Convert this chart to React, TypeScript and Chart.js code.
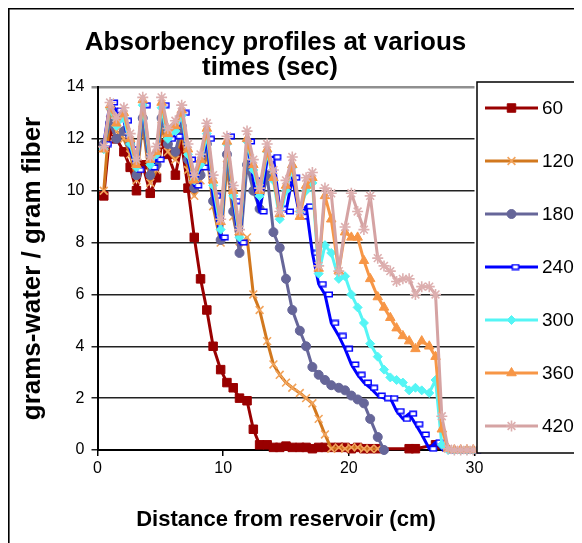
import React, { useEffect, useRef } from 'react';
import { Chart, registerables } from 'chart.js';
import { drawPoint } from 'chart.js/helpers';

Chart.register(...registerables);

// Distance from reservoir (cm) at which readings were taken
const positions = [
  0.5, 1.0, 1.5, 2.1, 2.6, 3.1, 3.6, 4.2, 4.7, 5.1, 5.6, 6.2, 6.7, 7.2, 7.7, 8.2, 8.7, 9.2, 9.8, 10.3, 10.8, 11.3, 11.9, 12.4, 12.9, 13.5, 14.0,
  14.5, 15.0, 15.5, 16.1, 16.6, 17.1, 17.6, 18.1, 18.6, 19.2, 19.7, 20.2, 20.7, 21.2, 21.7, 22.3, 22.8, 23.3, 23.8, 24.3, 24.8, 25.3, 25.8, 26.4, 26.9, 27.4, 27.9, 28.4, 28.9, 29.4, 29.9,
];

const series60 = [
  9.8, 12.3, 12.0, 11.5, 10.9, 10.0, 11.0, 9.9, 10.5, 11.8, 11.4, 10.6, 11.8, 10.1, 8.2, 6.6, 5.4, 4.0, 3.1, 2.6, 2.4, 2.0, 1.9, 0.8, 0.2, 0.2, 0.1,
  0.1, 0.15, 0.1, 0.1, 0.1, 0.05, 0.1, 0.1, 0.1, 0.1, 0.1, 0.05, 0.1, 0.05, 0.05, 0.05, null, null, null, null, 0.05, 0.05, null, null, 0.2, null, null, null, null, null, null,
];
const series120 = [
  10.0, 13.0, 12.3, 12.0, 11.4, 10.4, 12.6, 10.3, 10.8, 12.5, 11.5, 11.2, 12.3, 10.8, 9.8, 10.4, 11.5, 9.4, 8.0, 11.0, 9.0, 7.8, 8.2, 6.0, 5.4, 4.2, 3.3,
  2.9, 2.6, 2.4, 2.2, 2.0, 1.8, 1.2, 0.6, 0.05, 0.1, 0.05, 0.1, 0.1, 0.05, 0.05, 0.05, null, null, null, null, null, null, null, null, null, null, null, null, null, null, null,
];
const series180 = [
  11.8, 12.6, 12.0, 12.3, 11.8, 10.6, 12.8, 10.6, 11.0, 12.8, 11.8, 11.5, 12.5, 11.2, 10.1, 10.6, 11.8, 9.6, 8.1, 11.4, 9.2, 7.6, 11.0, 10.0, 9.3, 10.6, 8.4,
  7.8, 6.6, 5.4, 4.6, 4.0, 3.2, 2.9, 2.7, 2.5, 2.4, 2.3, 2.1, 1.95, 1.8, 1.2, 0.5, 0.0, null, null, null, null, null, null, null, null, null, null, null, null, null, null,
];
const series240 = [
  11.8, 13.4, 13.1, 12.7, 11.6, 10.8, 13.3, 10.9, 11.2, 13.3, 12.0, 12.1, 13.0, 11.2, 10.2, 10.9, 12.0, 9.8, 8.2, 12.1, 9.6, 8.0, 11.9, 10.4, 9.2, 11.2, 11.3,
  9.3, 9.2, 10.5, 9.0, 9.4, 7.6, 6.4, 6.0, 4.9, 4.4, 3.9, 3.3, 2.9, 2.6, 2.4, 2.1, 2.0, 2.0, 1.5, 1.2, 1.4, 1.0, 0.6, 0.05, 0.3, 0.05, 0, 0, 0, 0, 0,
];
const series300 = [
  11.6, 13.2, 12.5, 12.8, 11.8, 10.9, 13.3, 11.0, 11.4, 13.2, 12.0, 12.3, 12.9, 11.4, 10.4, 11.0, 12.2, 10.2, 8.5, 11.8, 9.8, 8.2, 11.9, 10.8, 9.8, 11.5, 10.4,
  8.9, 10.0, 10.9, 9.2, 10.0, 10.3, 6.8, 7.9, 7.6, 6.6, 6.7, 6.0, 5.5, 4.9, 4.1, 3.6, 3.1, 2.8, 2.7, 2.6, 2.3, 2.4, 2.3, 2.2, 2.7, 0.2, 0, 0, 0, 0, 0,
];
const series360 = [
  11.6, 13.3, 12.6, 13.0, 12.0, 11.0, 13.5, 11.2, 11.5, 13.4, 12.2, 12.5, 13.1, 11.6, 10.4, 11.2, 12.4, 10.4, 8.8, 11.9, 10.0, 8.4, 12.0, 11.0, 10.0, 11.6, 10.5,
  9.1, 10.2, 11.0, 9.0, 10.2, 10.5, 7.0, 9.8, 8.9, 6.9, 8.4, 8.2, 8.2, 7.3, 6.6, 5.9, 5.5, 5.1, 4.7, 4.4, 4.2, 3.9, 4.2, 4.0, 3.6, 0.8, 0.05, 0, 0, 0, 0,
];
const series420 = [
  11.7, 13.4, 12.8, 13.2, 12.2, 11.2, 13.6, 11.3, 11.7, 13.6, 12.4, 12.7, 13.3, 11.8, 10.6, 11.4, 12.6, 10.6, 8.9, 12.1, 10.2, 8.5, 12.3, 11.2, 10.1, 11.8, 10.8,
  9.2, 10.4, 11.3, 9.2, 10.5, 10.7, 7.1, 10.1, 9.9, 6.9, 8.6, 9.9, 9.2, 8.5, 9.8, 7.4, 7.1, 6.9, 6.5, 6.6, 6.6, 6.0, 6.3, 6.3, 6.0, 1.3, 0.05, 0, 0, 0, 0,
];

const seriesLabels = ['60', '120', '180', '240', '300', '360', '420'];
const seriesValues = [series60, series120, series180, series240, series300, series360, series420];

const titleLines = ['Absorbency profiles at various', 'times (sec)'];
const xAxisTitle = 'Distance from reservoir (cm)';
const yAxisTitle = 'grams-water / gram fiber';
const xTickValues = [0, 10, 20, 30];
const yTickValues = [0, 2, 4, 6, 8, 10, 12, 14];

const FONT = '"Liberation Sans", Arial, Helvetica, sans-serif';

const styles = [
  { line: '#990000', fill: '#990000', edge: '#990000', shape: 'rect', r: 6, bw: 1 },
  { line: '#D2781E', fill: '#F2A45C', edge: '#F2A45C', shape: 'crossRot', r: 5.5, bw: 1.6 },
  { line: '#666699', fill: '#666699', edge: '#666699', shape: 'circle', r: 4.5, bw: 1 },
  { line: '#0000FF', fill: '#FFFFFF', edge: '#0000FF', shape: 'dashbox', r: 4, bw: 1 },
  { line: '#55F5F5', fill: '#55F5F5', edge: '#55F5F5', shape: 'rectRot', r: 4.5, bw: 1 },
  { line: '#F79646', fill: '#F79646', edge: '#F79646', shape: 'triangle', r: 5.5, bw: 1 },
  { line: '#D5A3A3', fill: '#D5A3A3', edge: '#DDAFAF', shape: 'star', r: 5.5, bw: 1.6 },
];

function makeDashBox(color: string) {
  const c = document.createElement('canvas');
  c.width = 18;
  c.height = 7;
  const g = c.getContext('2d')!;
  g.fillStyle = '#ffffff';
  g.fillRect(9, 1, 8, 5);
  g.strokeStyle = color;
  g.lineWidth = 1.5;
  g.strokeRect(9.75, 1.25, 6.5, 4.5);
  return c;
}

const frameAndTitlePlugin = {
  id: 'frameAndTitle',
  beforeDraw(chart: any) {
    const { ctx, width, height } = chart;
    ctx.save();
    ctx.fillStyle = '#ffffff';
    ctx.fillRect(0, 0, width, height);
    ctx.strokeStyle = '#000000';
    ctx.lineWidth = 1.6;
    ctx.beginPath();
    ctx.moveTo(0.8, height);
    ctx.lineTo(0.8, 0.8);
    ctx.lineTo(width, 0.8);
    ctx.stroke();
    ctx.restore();
  },
  afterDraw(chart: any) {
    const { ctx } = chart;
    ctx.save();
    ctx.fillStyle = '#000000';
    ctx.font = `bold 26px ${FONT}`;
    ctx.textAlign = 'center';
    ctx.textBaseline = 'alphabetic';
    ctx.fillText(titleLines[0], 267.5, 42);
    ctx.fillText(titleLines[1], 262, 66.5);
    ctx.restore();
  },
};

const legendPlugin = {
  id: 'excelLegend',
  afterDraw(chart: any) {
    const { ctx, chartArea } = chart;
    const left = chartArea.right + 2.5;
    const top = chartArea.top - 5;
    const bottom = chartArea.bottom + 3;
    ctx.save();
    ctx.fillStyle = '#ffffff';
    ctx.fillRect(left, top, chart.width - left + 4, bottom - top);
    ctx.strokeStyle = '#000000';
    ctx.lineWidth = 1.5;
    ctx.strokeRect(left, top, chart.width - left + 4, bottom - top);
    chart.data.datasets.forEach((ds: any, i: number) => {
      const y = top + 26 + i * 53;
      ctx.strokeStyle = ds.borderColor;
      ctx.lineWidth = ds.borderWidth;
      ctx.beginPath();
      ctx.moveTo(left + 8, y);
      ctx.lineTo(left + 61, y);
      ctx.stroke();
      ctx.fillStyle = ds.pointBackgroundColor;
      ctx.strokeStyle = ds.pointBorderColor;
      ctx.lineWidth = ds.pointBorderWidth;
      drawPoint(ctx, { pointStyle: ds.pointStyle, radius: ds.pointRadius, rotation: 0, borderWidth: ds.pointBorderWidth }, left + 34.5, y);
      ctx.fillStyle = '#000000';
      ctx.font = `19px ${FONT}`;
      ctx.textAlign = 'left';
      ctx.textBaseline = 'middle';
      ctx.fillText(ds.label, left + 65, y + 1);
    });
    ctx.restore();
  },
};

export default function App() {
  const canvasRef = useRef<HTMLCanvasElement | null>(null);

  useEffect(() => {
    document.body.style.overflow = 'hidden';
    document.documentElement.style.overflow = 'hidden';
    const canvas = canvasRef.current;
    if (!canvas) return;

    const datasets = seriesLabels.map((label, i) => {
      const st = styles[i];
      const values = seriesValues[i];
      const data = positions
        .map((x, k) => ({ x, y: values[k] }))
        .filter((p) => p.y !== null && p.y !== undefined);
      return {
        label,
        data,
        borderColor: st.line,
        backgroundColor: st.line,
        borderWidth: 3,
        pointStyle: st.shape === 'dashbox' ? makeDashBox(st.edge) : st.shape,
        pointRadius: st.r,
        pointBackgroundColor: st.fill,
        pointBorderColor: st.edge,
        pointBorderWidth: st.bw,
        pointHoverRadius: st.r,
        tension: 0,
        borderJoinStyle: 'round',
        clip: false,
        order: seriesLabels.length - 1 - i,
        showLine: true,
      };
    });

    const chart = new Chart(canvas, {
      type: 'scatter',
      data: { datasets } as any,
      options: {
        responsive: false,
        animation: false,
        devicePixelRatio: 1,
        layout: { padding: { top: 79, right: 107.5, bottom: 0, left: 0 } },
        plugins: {
          legend: { display: false },
          title: { display: false },
          tooltip: { enabled: false },
        },
        scales: {
          x: {
            type: 'linear',
            min: 0,
            max: 30,
            afterBuildTicks: (s: any) => {
              s.ticks = xTickValues.map((v) => ({ value: v }));
            },
            afterFit: (s: any) => {
              s.height = 93;
            },
            ticks: {
              color: '#000000',
              font: { family: FONT, size: 16 },
              padding: 3,
              maxRotation: 0,
            },
            grid: {
              drawOnChartArea: false,
              drawTicks: true,
              tickLength: 6,
              color: '#000000',
              lineWidth: 1.5,
            },
            border: { display: true, color: '#000000', width: 2 },
            title: {
              display: true,
              text: xAxisTitle,
              color: '#000000',
              font: { family: FONT, size: 22, weight: 'bold' },
              padding: { top: 0, bottom: 10 },
            },
          },
          y: {
            type: 'linear',
            min: 0,
            max: 14,
            afterBuildTicks: (s: any) => {
              s.ticks = yTickValues.map((v) => ({ value: v }));
            },
            afterFit: (s: any) => {
              s.width = 89.5;
            },
            ticks: {
              color: '#000000',
              font: { family: FONT, size: 16 },
              padding: 7,
            },
            grid: {
              drawOnChartArea: true,
              drawTicks: true,
              tickLength: 6,
              color: (c: any) => (c.tick && c.tick.value === 14 ? '#8f8f8f' : '#222222'),
              lineWidth: (c: any) => (c.tick && c.tick.value === 14 ? 2.5 : 1.5),
            },
            border: { display: true, color: '#000000', width: 2 },
            title: {
              display: true,
              text: yAxisTitle,
              color: '#000000',
              font: { family: FONT, size: 26, weight: 'bold' },
              padding: { top: 9, bottom: 0 },
            },
          },
        },
      } as any,
      plugins: [frameAndTitlePlugin, legendPlugin],
    });

    return () => {
      chart.destroy();
    };
  }, []);

  return (
    <div style={{ width: 574, height: 535, position: 'relative' }}>
      <canvas ref={canvasRef} width={574} height={535} style={{ display: 'block', width: 574, height: 535 }} />
    </div>
  );
}
